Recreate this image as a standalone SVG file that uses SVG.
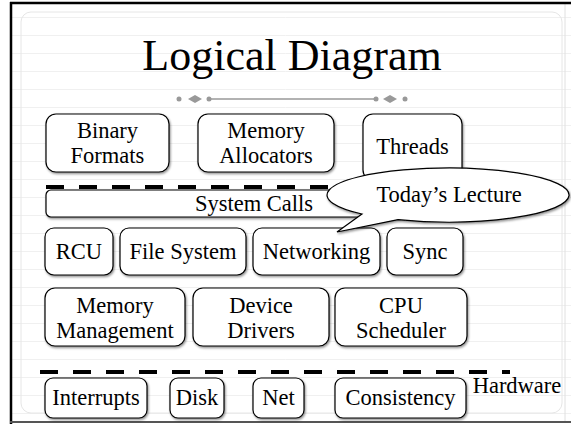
<svg xmlns="http://www.w3.org/2000/svg" width="571" height="424" viewBox="0 0 571 424">
  <defs>
    <filter id="sh" x="-10%" y="-20%" width="130%" height="150%">
      <feDropShadow dx="1" dy="1.5" stdDeviation="1.2" flood-color="#000" flood-opacity="0.45"/>
    </filter>
    <pattern id="ruled" width="571" height="18" patternUnits="userSpaceOnUse">
      <line x1="0" y1="17.5" x2="571" y2="17.5" stroke="#f0f0f0" stroke-width="1"/>
    </pattern>
  </defs>
  <style>
    .box { fill: #fff; stroke: #000; stroke-width: 1.2; filter: url(#sh); }
    .lbl { font-family: "Liberation Serif", "Times New Roman", serif; font-size: 22.5px; fill: #000; text-anchor: middle; }
    .dash { stroke: #000; stroke-width: 4; stroke-dasharray: 18 15; fill: none; }
    .deco { fill: #999; stroke: none; }
  </style>

  <!-- background -->
  <rect x="0" y="0" width="571" height="424" fill="#fff"/>
  <rect x="11" y="3" width="560" height="419" fill="url(#ruled)"/>
  <rect x="21" y="12" width="541" height="401" rx="10" fill="none" stroke="#e6e6e6" stroke-width="1"/>
  <line x1="565" y1="3" x2="565" y2="421" stroke="#e0e0e0" stroke-width="1"/>
  <!-- frame -->
  <line x1="10" y1="3" x2="571" y2="3" stroke="#000" stroke-width="2.5"/>
  <line x1="11" y1="2" x2="11" y2="424" stroke="#000" stroke-width="2.5"/>
  <line x1="10" y1="422" x2="571" y2="422" stroke="#555" stroke-width="2"/>

  <!-- title -->
  <text x="292" y="70" font-family="'Liberation Serif', 'Times New Roman', serif" font-size="44" text-anchor="middle" fill="#000">Logical Diagram</text>
  <g id="ornament">
    <line x1="209" y1="99" x2="376" y2="99" stroke="#999" stroke-width="1.5"/>
    <circle class="deco" cx="179" cy="99" r="2.5"/>
    <polygon class="deco" points="188,99 195,95 202,99 195,103"/>
    <circle class="deco" cx="209" cy="99" r="2.5"/>
    <circle class="deco" cx="376" cy="99" r="2.5"/>
    <polygon class="deco" points="383,99 390,95 397,99 390,103"/>
    <circle class="deco" cx="405" cy="99" r="2.5"/>
  </g>

  <!-- connectors / separators -->
  <g id="connectors">
    <line class="dash" x1="46" y1="187" x2="470" y2="187"/>
    <line class="dash" x1="40" y1="372" x2="510" y2="372"/>
  </g>

  <!-- row 1 -->
  <g id="binary-formats">
    <rect class="box" x="46" y="114" width="123" height="58" rx="10"/>
    <text class="lbl" x="107.5" y="138">Binary</text>
    <text class="lbl" x="107.5" y="163">Formats</text>
  </g>
  <g id="memory-allocators">
    <rect class="box" x="198" y="114" width="136" height="58" rx="10"/>
    <text class="lbl" x="266" y="138">Memory</text>
    <text class="lbl" x="266" y="163">Allocators</text>
  </g>
  <g id="threads">
    <rect class="box" x="363" y="114" width="99" height="66" rx="10"/>
    <text class="lbl" x="412.5" y="154">Threads</text>
  </g>

  <!-- system calls -->
  <g id="system-calls">
    <rect class="box" x="46" y="190" width="430" height="27" rx="5"/>
    <text class="lbl" x="254" y="211">System Calls</text>
  </g>

  <!-- row 3 -->
  <g id="rcu">
    <rect class="box" x="45" y="228" width="68" height="47" rx="9"/>
    <text class="lbl" x="79" y="259">RCU</text>
  </g>
  <g id="file-system">
    <rect class="box" x="120" y="228" width="126" height="47" rx="9"/>
    <text class="lbl" x="183" y="259">File System</text>
  </g>
  <g id="networking">
    <rect class="box" x="253" y="228" width="127" height="47" rx="9"/>
    <text class="lbl" x="316.5" y="259">Networking</text>
  </g>
  <g id="sync">
    <rect class="box" x="387" y="228" width="76" height="47" rx="9"/>
    <text class="lbl" x="425" y="259">Sync</text>
  </g>

  <!-- row 4 -->
  <g id="memory-management">
    <rect class="box" x="45" y="288" width="140" height="58" rx="10"/>
    <text class="lbl" x="115" y="313">Memory</text>
    <text class="lbl" x="115" y="338">Management</text>
  </g>
  <g id="device-drivers">
    <rect class="box" x="193" y="288" width="136" height="58" rx="10"/>
    <text class="lbl" x="261" y="313">Device</text>
    <text class="lbl" x="261" y="338">Drivers</text>
  </g>
  <g id="cpu-scheduler">
    <rect class="box" x="335" y="288" width="132" height="58" rx="10"/>
    <text class="lbl" x="401" y="313">CPU</text>
    <text class="lbl" x="401" y="338">Scheduler</text>
  </g>

  <!-- row 5 -->
  <g id="interrupts">
    <rect class="box" x="45" y="378" width="102" height="40" rx="8"/>
    <text class="lbl" x="96" y="405">Interrupts</text>
  </g>
  <g id="disk">
    <rect class="box" x="170" y="378" width="54" height="40" rx="8"/>
    <text class="lbl" x="197" y="405">Disk</text>
  </g>
  <g id="net">
    <rect class="box" x="253" y="378" width="51" height="40" rx="8"/>
    <text class="lbl" x="278.5" y="405">Net</text>
  </g>
  <g id="consistency">
    <rect class="box" x="335" y="378" width="131" height="40" rx="8"/>
    <text class="lbl" x="400.5" y="405">Consistency</text>
  </g>
  <g id="hardware-label">
    <text class="lbl" x="517" y="393">Hardware</text>
  </g>

  <!-- callout -->
  <g id="todays-lecture">
    <path class="box" d="M 362 214 L 337 232 L 398 219.6 A 121 27 0 1 0 362 214 Z"/>
    <text class="lbl" x="449" y="202">Today’s Lecture</text>
  </g>
</svg>
